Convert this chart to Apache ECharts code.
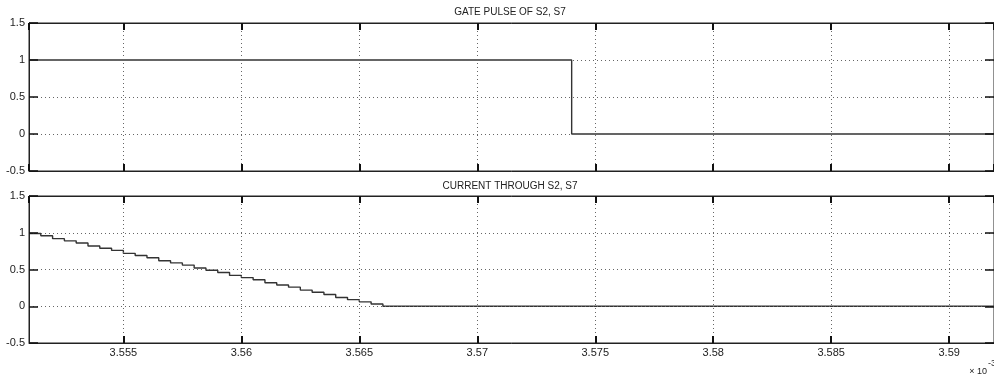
<!DOCTYPE html>
<html><head><meta charset="utf-8">
<script src="https://cdn.jsdelivr.net/npm/echarts@6/dist/echarts.min.js"></script>
<style>html,body{margin:0;padding:0;background:#fff}#c{width:994px;height:378px}</style>
</head><body><div id="c"></div>
<script>
const titles = ['GATE PULSE OF S2, S7', 'CURRENT THROUGH S2, S7'];
const xMin = 3.551, xMax = 3.5919;
const yMin = -0.5, yMax = 1.5, yStep = 0.5;
const gateTimes = [3.551, 3.574, 3.574, 3.5919];
const gateValues = [1, 1, 0, 0];
const currentTimes = [3.551, 3.5515, 3.552, 3.5525, 3.553, 3.5535, 3.554, 3.5545, 3.555, 3.5555, 3.556, 3.5565, 3.557, 3.5575, 3.558, 3.5585, 3.559, 3.5595, 3.56, 3.5605, 3.561, 3.5615, 3.562, 3.5625, 3.563, 3.5635, 3.564, 3.5645, 3.565, 3.5655, 3.566, 3.5919];
const currentValues = [0.99, 0.96, 0.92, 0.89, 0.86, 0.82, 0.79, 0.76, 0.72, 0.69, 0.66, 0.62, 0.59, 0.56, 0.52, 0.49, 0.46, 0.42, 0.39, 0.36, 0.32, 0.29, 0.26, 0.22, 0.19, 0.16, 0.12, 0.09, 0.06, 0.03, 0, 0];
const exponentLabel = '× 10';
const exponentSup = '-3';

const FONT = 'Liberation Sans';
const ink = '#222';
const grids = [
  {left: 29, top: 23, width: 966, height: 148},
  {left: 29, top: 196, width: 966, height: 147}
];
function xAx(g, pos, labels) {
  return {
    type: 'value', gridIndex: g, position: pos, min: xMin, max: xMax, splitNumber: 8, z: 5,
    axisLine: {show: true, onZero: false, lineStyle: {color: ink, width: 1}},
    axisTick: {show: true, inside: true, length: 7, lineStyle: {color: '#111', width: 2}},
    axisLabel: {show: labels, showMinLabel: false, showMaxLabel: false, color: ink, fontFamily: FONT, fontSize: 11, margin: 4},
    splitLine: {show: pos === 'bottom', showMinLine: false, showMaxLine: false, lineStyle: {color: '#666', type: [1, 3], width: 1}}
  };
}
function yAx(g, pos) {
  return {
    type: 'value', gridIndex: g, position: pos, min: yMin, max: yMax, interval: yStep, z: 5,
    axisLine: {show: true, onZero: false, lineStyle: {color: ink, width: 1}},
    axisTick: {show: true, inside: true, length: 9, lineStyle: {color: '#111', width: 1.5}},
    axisLabel: {show: pos === 'left', color: ink, fontFamily: FONT, fontSize: 11, margin: 4},
    splitLine: {show: pos === 'left', showMinLine: false, showMaxLine: false, lineStyle: {color: '#666', type: [1, 3], width: 1}}
  };
}
const chart = echarts.init(document.getElementById('c'), null, {renderer: 'canvas'});
chart.setOption({
  animation: false,
  backgroundColor: '#fff',
  grid: grids.map(g => Object.assign({show: true, borderColor: ink, borderWidth: 1, backgroundColor: '#fff'}, g)),
  xAxis: [xAx(0, 'bottom', false), xAx(0, 'top', false), xAx(1, 'bottom', true), xAx(1, 'top', false)],
  yAxis: [yAx(0, 'left'), yAx(0, 'right'), yAx(1, 'left'), yAx(1, 'right')],
  series: [
    {type: 'line', xAxisIndex: 0, yAxisIndex: 0, showSymbol: false, symbol: 'none',
     data: gateTimes.map((t, i) => [t, gateValues[i]]),
     lineStyle: {color: '#333', width: 1.4}},
    {type: 'line', xAxisIndex: 2, yAxisIndex: 2, showSymbol: false, symbol: 'none', step: 'end',
     data: currentTimes.map((t, i) => [t, currentValues[i]]),
     lineStyle: {color: '#333', width: 1.4}}
  ],
  graphic: [
    {type: 'text', x: 510, y: 12, style: {text: titles[0], fill: ink, font: '10px ' + FONT, textAlign: 'center', textVerticalAlign: 'middle'}},
    {type: 'text', x: 510, y: 186, style: {text: titles[1], fill: ink, font: '10px ' + FONT, textAlign: 'center', textVerticalAlign: 'middle'}},
    {type: 'text', x: 987, y: 372, style: {text: exponentLabel, fill: ink, font: '9px ' + FONT, textAlign: 'right', textVerticalAlign: 'middle'}},
    {type: 'text', x: 988, y: 364, style: {text: exponentSup, fill: ink, font: '9px ' + FONT, textAlign: 'left', textVerticalAlign: 'middle'}}
  ]
});
</script></body></html>
